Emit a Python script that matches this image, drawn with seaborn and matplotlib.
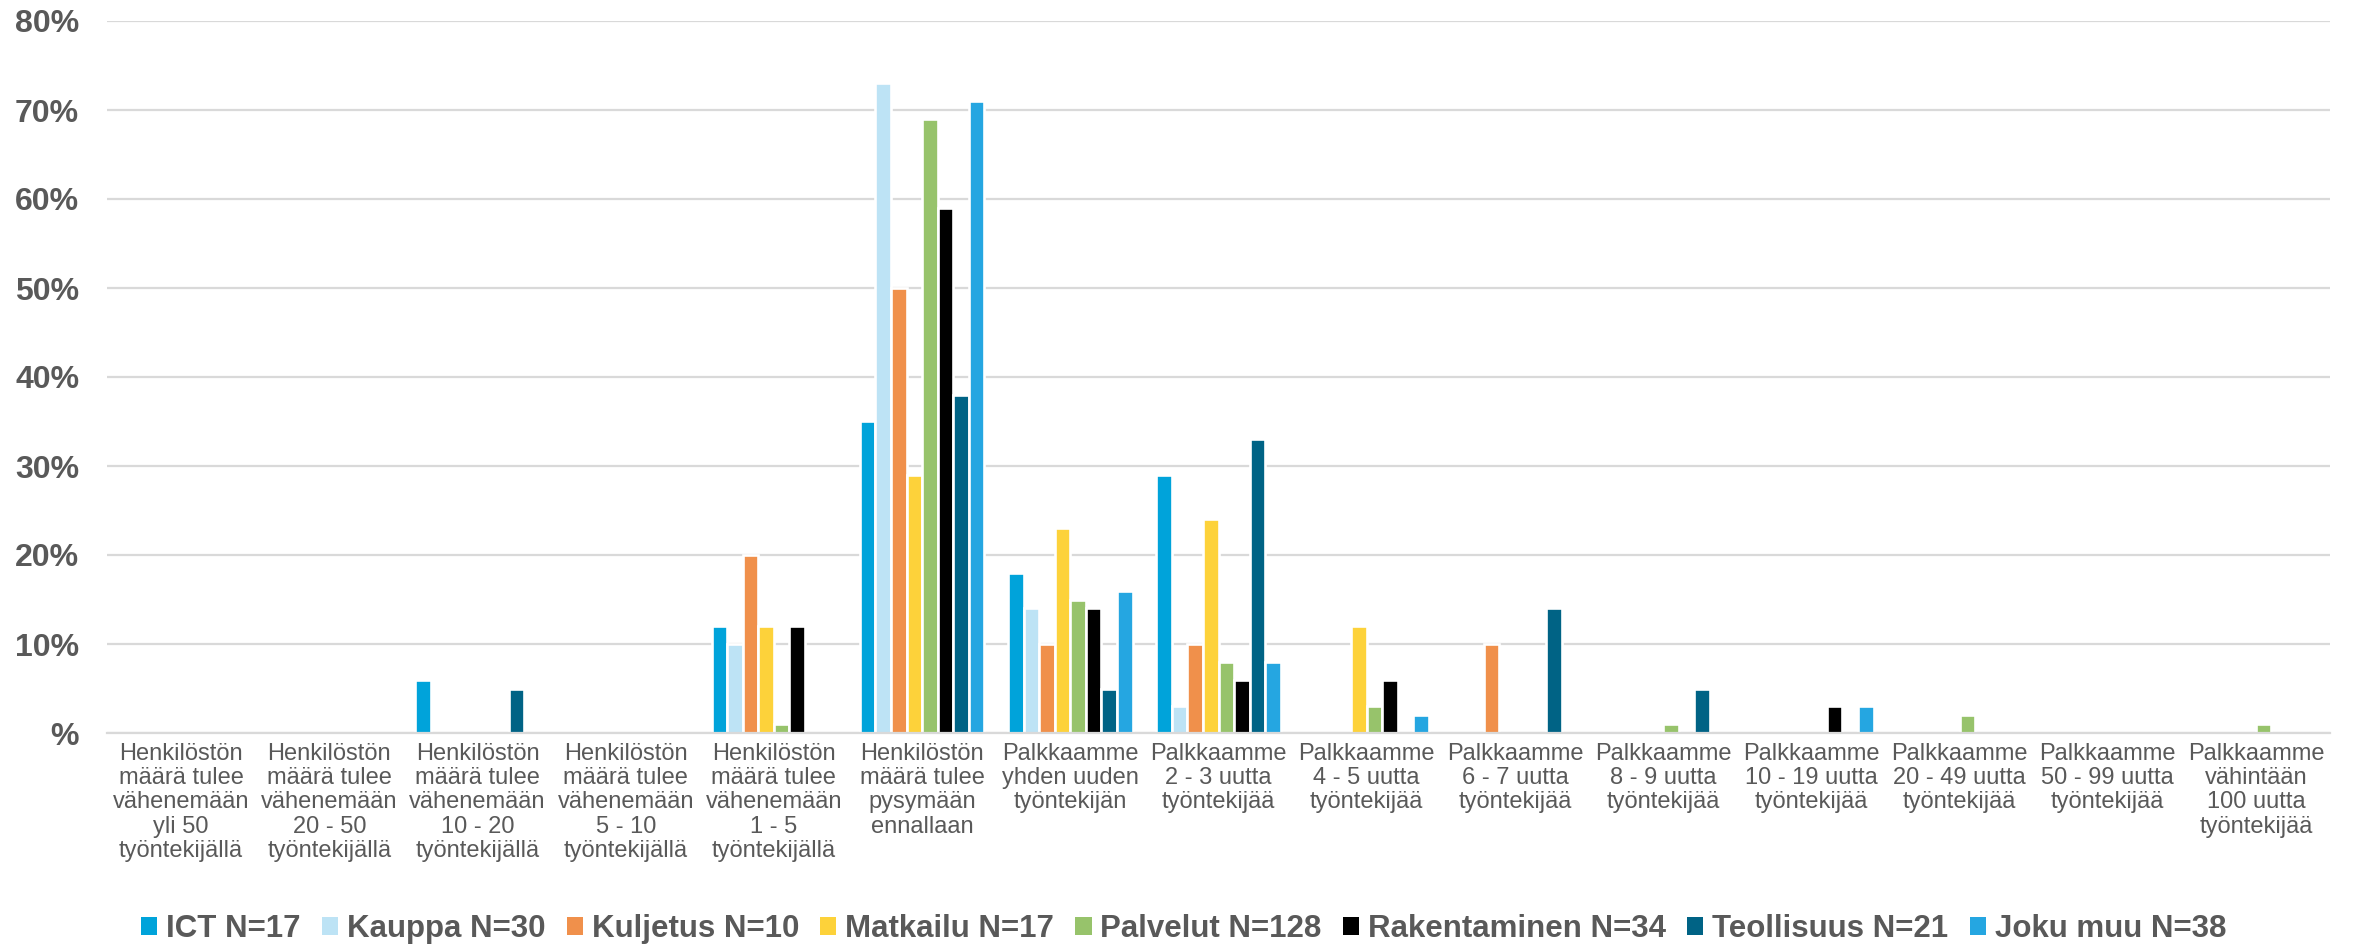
import matplotlib
matplotlib.use("Agg")
import matplotlib.pyplot as plt
from matplotlib.patches import Patch
import seaborn as sns
import pandas as pd

categories = [
    "Henkilöstön\nmäärä tulee\nvähenemään\nyli 50\ntyöntekijällä",
    "Henkilöstön\nmäärä tulee\nvähenemään\n20 - 50\ntyöntekijällä",
    "Henkilöstön\nmäärä tulee\nvähenemään\n10 - 20\ntyöntekijällä",
    "Henkilöstön\nmäärä tulee\nvähenemään\n5 - 10\ntyöntekijällä",
    "Henkilöstön\nmäärä tulee\nvähenemään\n1 - 5\ntyöntekijällä",
    "Henkilöstön\nmäärä tulee\npysymään\nennallaan",
    "Palkkaamme\nyhden uuden\ntyöntekijän",
    "Palkkaamme\n2 - 3 uutta\ntyöntekijää",
    "Palkkaamme\n4 - 5 uutta\ntyöntekijää",
    "Palkkaamme\n6 - 7 uutta\ntyöntekijää",
    "Palkkaamme\n8 - 9 uutta\ntyöntekijää",
    "Palkkaamme\n10 - 19 uutta\ntyöntekijää",
    "Palkkaamme\n20 - 49 uutta\ntyöntekijää",
    "Palkkaamme\n50 - 99 uutta\ntyöntekijää",
    "Palkkaamme\nvähintään\n100 uutta\ntyöntekijää",
]

series_names = ["ICT N=17", "Kauppa N=30", "Kuljetus N=10", "Matkailu N=17",
                "Palvelut N=128", "Rakentaminen N=34", "Teollisuus N=21", "Joku muu N=38"]

ict          = [0, 0, 6, 0, 12, 35, 18, 29, 0, 0, 0, 0, 0, 0, 0]
kauppa       = [0, 0, 0, 0, 10, 73, 14, 3, 0, 0, 0, 0, 0, 0, 0]
kuljetus     = [0, 0, 0, 0, 20, 50, 10, 10, 0, 10, 0, 0, 0, 0, 0]
matkailu     = [0, 0, 0, 0, 12, 29, 23, 24, 12, 0, 0, 0, 0, 0, 0]
palvelut     = [0, 0, 0, 0, 1, 69, 15, 8, 3, 0, 1, 0, 2, 0, 1]
rakentaminen = [0, 0, 0, 0, 12, 59, 14, 6, 6, 0, 0, 3, 0, 0, 0]
teollisuus   = [0, 0, 5, 0, 0, 38, 5, 33, 0, 14, 5, 0, 0, 0, 0]
joku_muu     = [0, 0, 0, 0, 0, 71, 16, 8, 2, 0, 0, 3, 0, 0, 0]

colors = ["#00A3DA", "#BDE3F5", "#F0904B", "#FDD23A", "#97C36B", "#000000", "#006385", "#25A6E1"]

y_ticks = [0, 10, 20, 30, 40, 50, 60, 70, 80]
y_tick_labels = ["%", "10%", "20%", "30%", "40%", "50%", "60%", "70%", "80%"]

all_series = [ict, kauppa, kuljetus, matkailu, palvelut, rakentaminen, teollisuus, joku_muu]
rows = []
for name, vals in zip(series_names, all_series):
    for cat, v in zip(categories, vals):
        rows.append({"cat": cat, "series": name, "value": v})
df = pd.DataFrame(rows)

sns.set_theme(style="white")
plt.rcParams["font.family"] = ["Liberation Sans", "DejaVu Sans"]

fig = plt.figure(figsize=(23.53, 9.47), dpi=100)
ax = fig.add_axes([107 / 2353, 1 - 733 / 947, (2330 - 107) / 2353, (733 - 21) / 947])

sns.barplot(data=df, x="cat", y="value", hue="series", order=categories,
            hue_order=series_names, palette=colors, width=0.84,
            edgecolor="white", linewidth=1.9, saturation=1, legend=False, ax=ax)

ax.set_ylim(0, 80)
ax.set_xlim(-0.5, len(categories) - 0.5)
ax.set_yticks(y_ticks)
ax.set_yticklabels(y_tick_labels)
ax.yaxis.grid(True, color="#D9D9D9", linewidth=1.6)
ax.set_axisbelow(True)
for s in ["top", "right", "left"]:
    ax.spines[s].set_visible(False)
ax.spines["bottom"].set_color("#D9D9D9")
ax.spines["bottom"].set_linewidth(1.6)
ax.spines["bottom"].set_zorder(5)
ax.set_xlabel("")
ax.set_ylabel("")
ax.tick_params(axis="y", length=0, pad=20, labelsize=23, labelcolor="#595959")
ax.tick_params(axis="x", length=0, pad=7, labelsize=17, labelcolor="#595959")
for t in ax.get_yticklabels():
    t.set_fontweight("bold")
for t in ax.get_xticklabels():
    t.set_multialignment("center")
    t.set_linespacing(1.14)

handles = [Patch(facecolor=c, edgecolor="none") for c in colors]
leg = fig.legend(handles, series_names, loc="center", bbox_to_anchor=(0.503, 0.019),
                 ncol=8, frameon=False, handlelength=0.52, handleheight=0.52,
                 handletextpad=0.28, columnspacing=0.68, borderaxespad=0,
                 prop={"weight": "bold", "size": 22.5})
for t in leg.get_texts():
    t.set_color("#595959")

fig.savefig("out.png", dpi=100)
